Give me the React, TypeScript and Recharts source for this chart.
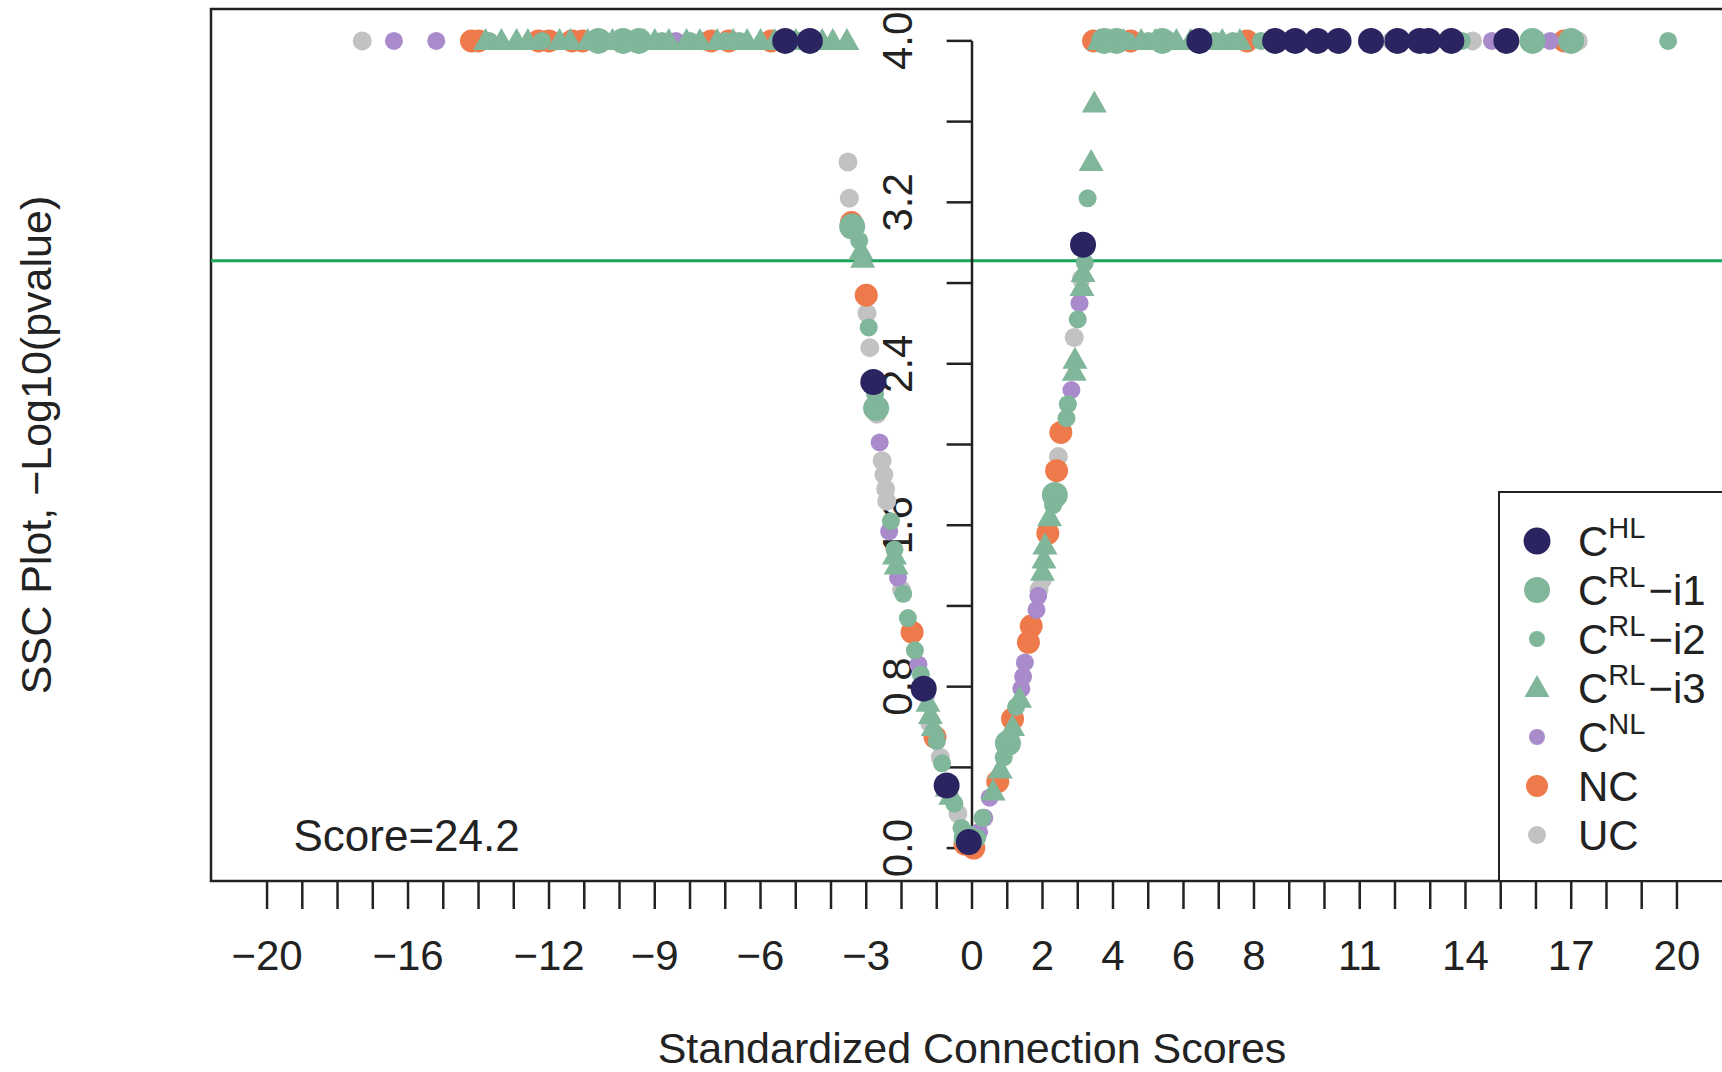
import React from 'react';
import {
  ScatterChart,
  Scatter,
  XAxis,
  YAxis,
  ReferenceLine,
  ReferenceArea,
  ReferenceDot,
  Label,
} from 'recharts';

const FONT = '"Liberation Sans", Arial, Helvetica, sans-serif';
const INK = '#222222';

// ---------- tick definitions ----------
const xTickValues = [
  -20, -19, -18, -17, -16, -15, -14, -13, -12, -11, -10, -9, -8, -7, -6, -5, -4, -3, -2, -1,
  0, 1, 2, 3, 4, 5, 6, 7, 8, 9, 10, 11, 12, 13, 14, 15, 16, 17, 18, 19, 20,
];
const xTickLabels = [-20, -16, -12, -9, -6, -3, 0, 2, 4, 6, 8, 11, 14, 17, 20];
const yTickValues = [0, 0.4, 0.8, 1.2, 1.6, 2.0, 2.4, 2.8, 3.2, 3.6, 4.0];
const yTickLabelValues = [0, 0.8, 1.6, 2.4, 3.2, 4.0];
const xDomain = [-21.59, 21.59];
const yDomain = [-0.163, 4.158];
const thresholdY = 2.91;
const scoreText = 'Score=24.2';
const xTitle = 'Standardized Connection Scores';
const yTitle = 'SSC Plot, \u2212Log10(pvalue)';

// ---------- series data ----------
const ucData = [
  { x: -17.3, y: 4 }, { x: -11.8, y: 4 }, { x: -7.6, y: 4 }, { x: 5.6, y: 4 }, { x: 11.9, y: 4 },
  { x: 14.2, y: 4 }, { x: 17.2, y: 4 },
  { x: -3.52, y: 3.4 }, { x: -3.48, y: 3.22 }, { x: -2.98, y: 2.65 }, { x: -2.9, y: 2.48 },
  { x: -2.7, y: 2.15 }, { x: -2.55, y: 1.92 }, { x: -2.5, y: 1.85 }, { x: -2.45, y: 1.78 },
  { x: -2.42, y: 1.72 }, { x: -2.0, y: 1.28 }, { x: -1.2, y: 0.62 }, { x: -0.9, y: 0.45 }, { x: -0.4, y: 0.17 },
  { x: 3.1, y: 2.82 }, { x: 2.9, y: 2.53 }, { x: 2.45, y: 1.94 }, { x: 2.0, y: 1.33 }, { x: 1.9, y: 1.28 },
];
const ncData = [
  { x: -14.2, y: 4 }, { x: -14.0, y: 4 }, { x: -12.3, y: 4 }, { x: -12.0, y: 4 }, { x: -11.35, y: 4 },
  { x: -11.05, y: 4 }, { x: -7.4, y: 4 }, { x: -6.9, y: 4 }, { x: -5.7, y: 4 }, { x: 3.45, y: 4 },
  { x: 4.5, y: 4 }, { x: 7.8, y: 4 }, { x: 16.8, y: 4 },
  { x: -3.42, y: 3.1 }, { x: -3.0, y: 2.74 }, { x: -1.7, y: 1.07 }, { x: -1.05, y: 0.55 }, { x: -0.2, y: 0.02 },
  { x: 2.52, y: 2.06 }, { x: 2.4, y: 1.87 }, { x: 2.15, y: 1.56 }, { x: 1.68, y: 1.1 }, { x: 1.6, y: 1.02 },
  { x: 1.15, y: 0.64 }, { x: 0.73, y: 0.33 }, { x: 0.05, y: 0.0 },
];
const nlData = [
  { x: -16.4, y: 4 }, { x: -15.2, y: 4 }, { x: -8.4, y: 4 }, { x: 14.75, y: 4 }, { x: 16.4, y: 4 },
  { x: -2.62, y: 2.01 }, { x: -2.35, y: 1.57 }, { x: -2.1, y: 1.34 }, { x: -1.52, y: 0.91 }, { x: -1.3, y: 0.76 },
  { x: 3.05, y: 2.7 }, { x: 2.82, y: 2.27 }, { x: 1.88, y: 1.25 }, { x: 1.83, y: 1.18 }, { x: 1.5, y: 0.92 },
  { x: 1.45, y: 0.85 }, { x: 1.4, y: 0.79 }, { x: 0.5, y: 0.25 }, { x: 0.35, y: 0.15 }, { x: 0.2, y: 0.08 },
];
const rlI1Data = [
  { x: -10.6, y: 4 }, { x: -9.9, y: 4 }, { x: -9.45, y: 4 }, { x: 3.75, y: 4 }, { x: 4.1, y: 4 },
  { x: 5.4, y: 4 }, { x: 15.9, y: 4 }, { x: 17.0, y: 4 },
  { x: -3.4, y: 3.08 }, { x: -2.72, y: 2.18 }, { x: -0.15, y: 0.05 }, { x: 1.02, y: 0.52 }, { x: 2.35, y: 1.75 },
];
const rlI2Data = [
  { x: -13.7, y: 4 }, { x: -12.2, y: 4 }, { x: -10.4, y: 4 }, { x: -9.7, y: 4 }, { x: -8.8, y: 4 },
  { x: -8.0, y: 4 }, { x: -7.0, y: 4 }, { x: -6.6, y: 4 }, { x: -4.9, y: 4 }, { x: 4.4, y: 4 },
  { x: 5.0, y: 4 }, { x: 6.9, y: 4 }, { x: 7.4, y: 4 }, { x: 8.2, y: 4 }, { x: 8.9, y: 4 },
  { x: 13.9, y: 4 }, { x: 19.75, y: 4 },
  { x: -3.2, y: 3.01 }, { x: -2.93, y: 2.58 }, { x: -2.75, y: 2.25 }, { x: -2.3, y: 1.62 }, { x: -2.2, y: 1.48 },
  { x: -1.95, y: 1.26 }, { x: -1.82, y: 1.14 }, { x: -1.62, y: 0.98 }, { x: -1.45, y: 0.86 }, { x: -1.0, y: 0.53 },
  { x: -0.85, y: 0.42 }, { x: -0.5, y: 0.22 }, { x: -0.3, y: 0.1 },
  { x: 3.28, y: 3.22 }, { x: 3.2, y: 2.9 }, { x: 3.0, y: 2.62 }, { x: 2.72, y: 2.2 }, { x: 2.68, y: 2.13 },
  { x: 2.3, y: 1.7 }, { x: 1.25, y: 0.7 }, { x: 0.9, y: 0.45 }, { x: 0.3, y: 0.15 }, { x: 0.15, y: 0.05 },
];
const rlI3Data = [
  { x: -13.8, y: 4 }, { x: -13.35, y: 4 }, { x: -12.92, y: 4 }, { x: -12.6, y: 4 }, { x: -11.7, y: 4 },
  { x: -11.4, y: 4 }, { x: -10.9, y: 4 }, { x: -10.2, y: 4 }, { x: -9.3, y: 4 }, { x: -9.0, y: 4 },
  { x: -8.6, y: 4 }, { x: -8.1, y: 4 }, { x: -7.72, y: 4 }, { x: -7.23, y: 4 }, { x: -6.78, y: 4 },
  { x: -6.38, y: 4 }, { x: -6.0, y: 4 }, { x: -5.6, y: 4 }, { x: -5.0, y: 4 },
  { x: -4.25, y: 4 }, { x: -3.95, y: 4 }, { x: -3.55, y: 4 },
  { x: 3.6, y: 4 }, { x: 3.9, y: 4 }, { x: 4.3, y: 4 }, { x: 4.8, y: 4 }, { x: 5.2, y: 4 },
  { x: 5.8, y: 4 }, { x: 6.2, y: 4 }, { x: 6.6, y: 4 }, { x: 7.1, y: 4 }, { x: 7.6, y: 4 },
  { x: 3.47, y: 3.69 }, { x: 3.38, y: 3.4 }, { x: 3.15, y: 2.85 }, { x: 3.12, y: 2.78 }, { x: 2.92, y: 2.42 },
  { x: 2.9, y: 2.36 }, { x: 2.2, y: 1.64 }, { x: 2.07, y: 1.5 }, { x: 2.04, y: 1.43 }, { x: 2.0, y: 1.37 },
  { x: 1.35, y: 0.74 }, { x: 1.15, y: 0.6 }, { x: 0.8, y: 0.39 }, { x: 0.6, y: 0.28 },
  { x: -3.15, y: 2.96 }, { x: -3.1, y: 2.92 }, { x: -2.2, y: 1.45 }, { x: -2.15, y: 1.4 }, { x: -1.25, y: 0.72 },
  { x: -1.18, y: 0.66 }, { x: -1.1, y: 0.6 }, { x: -0.7, y: 0.3 }, { x: -0.6, y: 0.26 },
];
const hlData = [
  { x: -5.3, y: 4 }, { x: -4.6, y: 4 }, { x: 6.45, y: 4 }, { x: 8.6, y: 4 }, { x: 9.17, y: 4 },
  { x: 9.8, y: 4 }, { x: 10.4, y: 4 }, { x: 11.32, y: 4 }, { x: 12.07, y: 4 }, { x: 12.7, y: 4 },
  { x: 12.95, y: 4 }, { x: 13.6, y: 4 }, { x: 15.16, y: 4 },
  { x: 3.15, y: 2.99 }, { x: -2.8, y: 2.31 }, { x: -1.37, y: 0.79 }, { x: -0.72, y: 0.31 }, { x: -0.09, y: 0.03 },
];

// ---------- styles ----------
const COLORS = {
  hl: '#2a2560',
  green: '#80b69a',
  nl: '#a98bcc',
  nc: '#ee7a4b',
  uc: '#c2c2c2',
  line: '#19a55a',
};

const circleShape = (fill: string, r: number) => (props: any) =>
  props.cx == null ? <g /> : <circle cx={props.cx} cy={props.cy} r={r} fill={fill} />;

const triangleShape = (fill: string) => (props: any) => {
  if (props.cx == null) return <g />;
  const { cx, cy } = props;
  return (
    <polygon
      points={`${cx},${cy - 13} ${cx - 12.5},${cy + 9} ${cx + 12.5},${cy + 9}`}
      fill={fill}
    />
  );
};

const legendItems = [
  { kind: 'circle', r: 13.5, color: COLORS.hl, sup: 'HL', suffix: '' },
  { kind: 'circle', r: 13, color: COLORS.green, sup: 'RL', suffix: '\u2212i1' },
  { kind: 'circle', r: 8, color: COLORS.green, sup: 'RL', suffix: '\u2212i2' },
  { kind: 'triangle', r: 0, color: COLORS.green, sup: 'RL', suffix: '\u2212i3' },
  { kind: 'circle', r: 8, color: COLORS.nl, sup: 'NL', suffix: '' },
  { kind: 'circle', r: 11, color: COLORS.nc, sup: '', suffix: '', plain: 'NC' },
  { kind: 'circle', r: 9, color: COLORS.uc, sup: '', suffix: '', plain: 'UC' },
] as any[];

const XTick = (props: any) => {
  const { x, y, payload } = props;
  if (!xTickLabels.includes(payload.value)) return <g />;
  const txt = payload.value < 0 ? `\u2212${Math.abs(payload.value)}` : `${payload.value}`;
  return (
    <text x={x} y={y + 59} textAnchor="middle" fontFamily={FONT} fontSize={42} fill={INK}>
      {txt}
    </text>
  );
};

const XTitle = (props: any) => {
  const vb = props.viewBox || {};
  return (
    <text
      x={vb.x + vb.width / 2}
      y={vb.y + 182}
      textAnchor="middle"
      fontFamily={FONT}
      fontSize={43}
      fill={INK}
    >
      {xTitle}
    </text>
  );
};

const YTitle = (props: any) => {
  const vb = props.viewBox || {};
  const cx = vb.x + 36;
  const cy = vb.y + vb.height / 2;
  return (
    <text
      x={cx}
      y={cy}
      textAnchor="middle"
      dominantBaseline="central"
      transform={`rotate(-90 ${cx} ${cy})`}
      fontFamily={FONT}
      fontSize={43}
      fill={INK}
    >
      {yTitle}
    </text>
  );
};

const yLabelShape = (label: string) => (props: any) => {
  const { cx, cy } = props;
  return (
    <text
      x={cx}
      y={cy}
      textAnchor="middle"
      dominantBaseline="central"
      transform={`rotate(-90 ${cx} ${cy})`}
      fontFamily={FONT}
      fontSize={42}
      fill={INK}
    >
      {label}
    </text>
  );
};

const scoreShape = (props: any) => (
  <text x={props.cx} y={props.cy} textAnchor="start" fontFamily={FONT} fontSize={44} fill={INK}>
    {scoreText}
  </text>
);

const Legend = () => (
  <div
    style={{
      position: 'absolute',
      left: 1498,
      top: 491,
      width: 300,
      height: 391,
      boxSizing: 'border-box',
      border: `2.5px solid ${INK}`,
      background: '#fff',
    }}
  >
    <svg width={300} height={391} style={{ position: 'absolute', left: -2.5, top: -2.5 }}>
      {legendItems.map((it, i) => {
        const cy = 50 + i * 49;
        const sx = 39;
        return (
          <g key={i}>
            {it.kind === 'circle' ? (
              <circle cx={sx} cy={cy} r={it.r} fill={it.color} />
            ) : (
              <polygon
                points={`${sx},${cy - 13} ${sx - 12.5},${cy + 9} ${sx + 12.5},${cy + 9}`}
                fill={it.color}
              />
            )}
            <text x={80} y={cy + 15} fontFamily={FONT} fontSize={42} fill={INK}>
              {it.plain ? (
                it.plain
              ) : (
                <>
                  C
                  <tspan dy={-18} fontSize={29}>
                    {it.sup}
                  </tspan>
                  {it.suffix ? <tspan dy={18} dx={3}>{it.suffix}</tspan> : null}
                </>
              )}
            </text>
          </g>
        );
      })}
    </svg>
  </div>
);

export default function App() {
  return (
    <div
      style={{
        position: 'absolute',
        left: 0,
        top: 0,
        width: 1722,
        height: 1072,
        overflow: 'hidden',
        background: '#ffffff',
      }}
    >
      <ScatterChart width={1760} height={1072} margin={{ top: 9, right: 27, bottom: 0, left: 0 }}>
        <XAxis
          type="number"
          dataKey="x"
          domain={xDomain}
          ticks={xTickValues}
          interval={0}
          allowDataOverflow
          axisLine={false}
          tickSize={28}
          tickLine={{ stroke: INK, strokeWidth: 2.5 }}
          tick={<XTick />}
          height={191}
        >
          <Label content={<XTitle />} />
        </XAxis>
        <YAxis
          type="number"
          dataKey="y"
          domain={yDomain}
          allowDataOverflow
          width={211}
          axisLine={false}
          tickLine={false}
          tick={false}
        >
          <Label content={<YTitle />} />
        </YAxis>

        <ReferenceArea
          x1={xDomain[0]}
          x2={xDomain[1]}
          y1={yDomain[0]}
          y2={yDomain[1]}
          fill="none"
          fillOpacity={0}
          stroke={INK}
          strokeWidth={2.5}
        />
        <ReferenceLine y={thresholdY} stroke={COLORS.line} strokeWidth={3} />
        <ReferenceLine
          segment={[{ x: 0, y: 0 }, { x: 0, y: 4 }]}
          stroke={INK}
          strokeWidth={2.5}
        />
        {yTickValues.map((v) => (
          <ReferenceLine
            key={`yt${v}`}
            segment={[{ x: -0.72, y: v }, { x: 0, y: v }]}
            stroke={INK}
            strokeWidth={2.5}
          />
        ))}
        {yTickLabelValues.map((v) => (
          <ReferenceDot
            key={`yl${v}`}
            x={-2.1}
            y={v}
            r={0}
            shape={yLabelShape(v.toFixed(1))}
          />
        ))}
        <ReferenceDot x={-19.25} y={-0.015} r={0} shape={scoreShape} />

        <Scatter data={ucData} isAnimationActive={false} shape={circleShape(COLORS.uc, 9.5)} />
        <Scatter data={ncData} isAnimationActive={false} shape={circleShape(COLORS.nc, 11.5)} />
        <Scatter data={nlData} isAnimationActive={false} shape={circleShape(COLORS.nl, 9)} />
        <Scatter data={rlI1Data} isAnimationActive={false} shape={circleShape(COLORS.green, 13)} />
        <Scatter data={rlI2Data} isAnimationActive={false} shape={circleShape(COLORS.green, 9)} />
        <Scatter data={rlI3Data} isAnimationActive={false} shape={triangleShape(COLORS.green)} />
        <Scatter data={hlData} isAnimationActive={false} shape={circleShape(COLORS.hl, 13)} />
      </ScatterChart>
      <Legend />
    </div>
  );
}
